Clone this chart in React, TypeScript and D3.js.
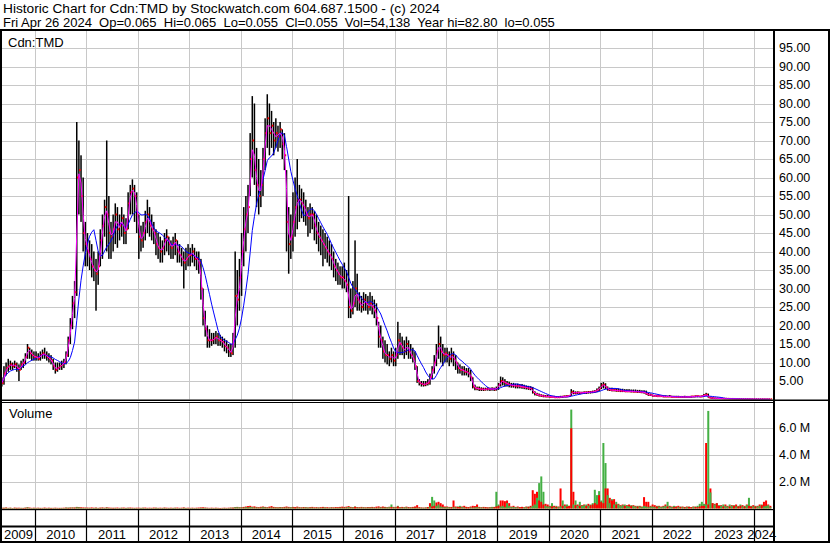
import React from "react";
import * as d3 from "d3";

// Semi-monthly periods from May 2009 (first half) to Apr 2024 (second half)
// prices in CAD
const highs = [
  // 2009 (May-Dec)
  6, 9, 10, 11, 10.5, 10, 10.5, 10, 9.5, 10.5, 11, 12.5, 15, 14, 13.5, 13,
  // 2010
  13, 12.5, 13, 13.5, 14, 13, 12.5, 12, 11, 10, 10, 10, 10.5, 11, 13, 17, 22, 28, 32, 75, 70, 66, 60, 48,
  // 2011
  45, 43, 42, 40, 38, 40, 46, 50, 54, 70, 55, 48, 50, 53, 52, 50, 52, 50, 49, 56, 58, 59.5, 58, 56,
  // 2012
  50, 47, 48, 51, 54, 52, 50, 48, 46, 45, 44, 43, 45, 46, 44, 43, 44, 45, 43, 42, 41, 40, 41, 42,
  // 2013
  41, 42, 41, 40, 40, 38, 30, 24, 20, 19, 18, 18, 18.5, 18, 17.5, 17, 16.5, 16, 15, 15, 18, 40, 35, 38,
  // 2014
  45, 52, 55, 58, 72, 82, 80, 68, 65, 62, 68, 76, 82.5, 80, 78, 75, 76, 74, 75, 73, 72, 62, 52, 50,
  // 2015
  56, 60, 65, 58, 57, 56, 54, 52, 53, 52, 51, 50, 48, 47, 46, 45, 44, 43, 42, 40, 38, 37, 36, 36,
  // 2016
  37, 35, 55, 30, 32, 43, 34, 29, 28, 29, 28.5, 28, 29, 28, 27, 26, 21, 20, 17, 16, 15, 13, 14, 13,
  // 2017
  14, 21, 18, 17, 16, 17, 16, 15, 14, 13, 9, 5.5, 5, 5, 5, 5.5, 7, 9, 12, 15, 20, 17, 15, 14,
  // 2018
  14, 13, 14, 13, 12, 10, 9.5, 9, 9, 8.5, 8.5, 8, 6, 4, 3.5, 3.5, 3.3, 3.2, 3.2, 3.3, 3.2, 3.3, 3.2, 3.5,
  // 2019
  4.5, 6.2, 6, 5.5, 5, 4.8, 4.5, 4.5, 4.3, 4.3, 4.2, 4.2, 4, 3.8, 3.7, 3.6, 3.4, 2.2, 1.8, 1.6, 1.4, 1.3, 1.2, 1.2,
  // 2020
  1.1, 1, 1, 0.9, 0.9, 1, 1, 1.1, 1.2, 1.2, 2.8, 2.5, 2.2, 2.2, 2.1, 2.1, 2.2, 2.2, 2.3, 2.3, 2.4, 2.5, 3, 3.5,
  // 2021
  4.5, 4.7, 4.4, 3.5, 3.2, 3.2, 3, 3, 3, 2.9, 2.9, 2.8, 2.8, 2.8, 2.7, 2.7, 2.7, 2.6, 2.6, 2.5, 2.5, 2.4, 1.8, 1.6,
  // 2022
  1.3, 1.2, 1.2, 1.2, 1.1, 1.1, 1.1, 1, 1.2, 1, 1, 1, 1, 0.9, 0.9, 1, 0.9, 0.9, 1, 1, 1.1, 1.1, 1, 1.1,
  // 2023
  1.5, 1.8, 1.6, 0.8, 0.6, 0.5, 0.45, 0.4, 0.4, 0.35, 0.3, 0.3, 0.25, 0.25, 0.22, 0.2, 0.2, 0.18, 0.17, 0.16, 0.15, 0.14, 0.13, 0.12,
  // 2024 (Jan-Apr)
  0.12, 0.11, 0.1, 0.1, 0.09, 0.09, 0.08, 0.065,
];

const lows = [
  3.5, 4, 6.5, 7.5, 8, 8, 8.5, 7.5, 5, 8, 8.5, 9.5, 11, 11, 10.5, 10.5,
  10.5, 10.5, 10.5, 11, 11, 10.5, 10, 9.5, 8, 7, 7.5, 8, 8, 8.5, 9.5, 11.5, 15, 19, 22, 28, 50, 48, 40, 36,
  36, 35, 33, 32, 24, 31, 36, 38, 44, 40, 38, 38, 40, 42, 41, 43, 44, 42, 42, 46, 50, 50, 48, 45,
  38, 40, 41, 43, 45, 44, 43, 42, 39, 38, 37, 37, 39, 40, 39, 38, 38, 39, 37, 37, 36, 30, 35, 36,
  36, 37, 36, 35, 34, 27, 20, 17, 14, 14, 14.5, 15, 15, 14.5, 14.5, 14, 13, 12.5, 11.5, 11.5, 12, 14, 20, 24,
  28, 36, 40, 45, 55, 60, 58, 52, 50, 52, 55, 62, 68, 66, 68, 66, 68, 67, 68, 65, 62, 40, 34, 38,
  40, 44, 46, 48, 49, 48, 47, 44, 45, 46, 43, 42, 40, 39, 36, 38, 37, 36, 35, 33, 32, 31, 31, 30,
  30, 29, 22, 22, 23, 25, 24, 24, 23.5, 24, 24, 23, 24, 23, 22, 20, 14, 14, 11, 10, 9.5, 9, 10, 9,
  9, 11, 12, 12, 11, 12, 11, 11, 10, 8, 4.5, 3.8, 3.5, 3.5, 3.6, 3.8, 4, 5.5, 7, 9, 11, 10, 9, 10,
  10, 9, 10, 9, 8, 7, 7, 6.5, 6.5, 6.5, 6, 5, 3, 2.5, 2.5, 2.3, 2.3, 2.3, 2.4, 2.4, 2.3, 2.4, 2.3, 2.4,
  2.6, 3.5, 3.8, 3.5, 3.5, 3.3, 3.2, 3.2, 3, 3, 3, 2.9, 2.8, 2.7, 2.6, 2.5, 1.6, 1.1, 1, 0.8, 0.7, 0.6, 0.6, 0.6,
  0.5, 0.5, 0.5, 0.4, 0.4, 0.5, 0.5, 0.6, 0.6, 0.7, 1, 1.4, 1.4, 1.5, 1.4, 1.5, 1.5, 1.5, 1.6, 1.6, 1.7, 1.8, 2, 2.3,
  2.8, 3, 2.8, 2.4, 2.3, 2.2, 2.2, 2.1, 2.1, 2, 2, 2, 2, 2, 1.9, 1.9, 1.9, 1.8, 1.8, 1.7, 1.6, 1.3, 1, 1,
  0.8, 0.8, 0.7, 0.7, 0.7, 0.6, 0.6, 0.6, 0.6, 0.5, 0.5, 0.5, 0.5, 0.5, 0.5, 0.5, 0.5, 0.5, 0.5, 0.6, 0.6, 0.6, 0.6, 0.6,
  0.8, 0.9, 0.5, 0.3, 0.2, 0.2, 0.2, 0.15, 0.15, 0.15, 0.12, 0.12, 0.1, 0.1, 0.1, 0.09, 0.08, 0.08, 0.07, 0.07, 0.06, 0.06, 0.06, 0.05,
  0.05, 0.05, 0.05, 0.05, 0.05, 0.05, 0.05, 0.055,
];

const closes = [
  4.5, 7, 8.5, 9, 9.5, 9, 9.5, 8.5, 8, 9.5, 10, 11.5, 14, 12.5, 12, 11.5,
  11.5, 11, 12, 12.5, 12, 11.5, 11, 10.5, 9, 8, 8.5, 9, 9.5, 10, 12, 16, 20, 26, 29, 60, 62, 55, 45, 42,
  40, 38, 36, 35, 34, 36, 43, 47, 52, 50, 45, 44, 46, 50, 46, 47, 49, 45, 46, 53, 56, 57, 55, 50,
  44, 43, 45, 48, 50, 47, 46, 45, 42, 41, 40, 41, 43, 44, 42, 41, 42, 43, 40, 39, 38, 37, 38, 39,
  39, 40, 38, 38, 37, 30, 22, 19, 16, 16, 16, 16.5, 17, 16, 16, 15.5, 14.5, 14, 13, 12.5, 16, 28, 27, 33,
  40, 46, 50, 52, 65, 70, 62, 58, 55, 58, 65, 72, 76, 72, 74, 70, 72, 71, 73, 69, 66, 48, 42, 44,
  48, 52, 54, 54, 53, 52, 50, 49, 50, 50, 47, 45, 44, 43, 42, 41, 40, 39, 38, 36, 35, 34, 33, 33,
  32, 31, 25, 24, 26, 30, 27, 26, 25, 27, 26, 25, 26, 25, 24, 22, 17, 16, 13, 12, 12, 11, 12, 10.5,
  12, 16, 15, 14, 13, 15, 13, 12, 11, 9, 5, 4.5, 4.2, 4, 4.3, 4.5, 6, 8, 10, 13, 15, 13, 12, 12.5,
  12, 11, 12, 11, 10, 8.5, 8, 8, 7.5, 7.5, 7, 6, 3.5, 3, 3, 2.8, 2.8, 2.7, 2.8, 2.9, 2.8, 2.9, 2.7, 3,
  4, 5, 4.8, 4.5, 4.2, 4, 3.8, 3.8, 3.6, 3.7, 3.5, 3.4, 3.3, 3.2, 3, 3, 2, 1.5, 1.3, 1.1, 1, 0.9, 0.8, 0.8,
  0.7, 0.7, 0.6, 0.6, 0.6, 0.7, 0.8, 0.8, 0.9, 1, 2, 1.8, 1.8, 1.9, 1.8, 1.8, 1.9, 1.9, 2, 2, 2.1, 2.2, 2.6, 3,
  3.8, 4, 3.3, 2.7, 2.6, 2.5, 2.5, 2.4, 2.4, 2.3, 2.3, 2.2, 2.2, 2.2, 2.2, 2.1, 2.1, 2.1, 2, 2, 1.9, 1.5, 1.3, 1.2,
  1, 1, 0.9, 0.9, 0.9, 0.8, 0.8, 0.8, 0.8, 0.7, 0.7, 0.7, 0.7, 0.7, 0.7, 0.7, 0.7, 0.7, 0.8, 0.8, 0.9, 0.9, 0.8, 0.9,
  1.2, 1.3, 0.6, 0.4, 0.35, 0.3, 0.3, 0.25, 0.25, 0.2, 0.2, 0.18, 0.15, 0.15, 0.14, 0.12, 0.12, 0.11, 0.1, 0.1, 0.09, 0.09, 0.08, 0.08,
  0.08, 0.07, 0.07, 0.07, 0.06, 0.06, 0.06, 0.055,
];

// volume in millions of shares, split into down (red) and up (green) sessions
const volDown = [
  0.06, 0.05, 0.08, 0.05, 0.06, 0.04, 0.07, 0.05, 0.06, 0.05, 0.04, 0.06, 0.09, 0.07, 0.05, 0.06,
  0.05, 0.06, 0.04, 0.05, 0.07, 0.05, 0.06, 0.04, 0.05, 0.06, 0.05, 0.04, 0.05, 0.06, 0.07, 0.05, 0.06, 0.08, 0.07, 0.12, 0.1, 0.09, 0.08, 0.07,
  0.07, 0.06, 0.08, 0.06, 0.07, 0.05, 0.06, 0.08, 0.06, 0.09, 0.07, 0.06, 0.05, 0.06, 0.07, 0.05, 0.06, 0.07, 0.05, 0.06, 0.07, 0.06, 0.05, 0.06,
  0.06, 0.05, 0.06, 0.07, 0.05, 0.06, 0.05, 0.07, 0.06, 0.05, 0.06, 0.05, 0.07, 0.06, 0.05, 0.06, 0.05, 0.06, 0.07, 0.05, 0.06, 0.08, 0.05, 0.06,
  0.05, 0.06, 0.05, 0.06, 0.07, 0.08, 0.09, 0.07, 0.06, 0.05, 0.06, 0.05, 0.06, 0.05, 0.04, 0.05, 0.06, 0.05, 0.06, 0.07, 0.06, 0.1, 0.12, 0.09,
  0.1, 0.12, 0.15, 0.18, 0.2, 0.14, 0.16, 0.12, 0.1, 0.13, 0.15, 0.12, 0.1, 0.14, 0.18, 0.12, 0.1, 0.09, 0.11, 0.1, 0.12, 0.15, 0.12, 0.1,
  0.12, 0.1, 0.14, 0.1, 0.09, 0.11, 0.1, 0.08, 0.1, 0.12, 0.09, 0.1, 0.08, 0.1, 0.12, 0.09, 0.1, 0.08, 0.1, 0.09, 0.11, 0.1, 0.12, 0.14,
  0.12, 0.14, 0.18, 0.12, 0.1, 0.13, 0.11, 0.1, 0.12, 0.1, 0.09, 0.11, 0.1, 0.12, 0.1, 0.14, 0.16, 0.12, 0.15, 0.12, 0.1, 0.13, 0.11, 0.12,
  0.12, 0.15, 0.1, 0.12, 0.1, 0.14, 0.11, 0.1, 0.12, 0.15, 0.25, 0.1, 0.08, 0.07, 0.08, 0.1, 0.4, 0.15, 0.2, 0.45, 0.5, 0.4, 0.3, 0.15,
  0.15, 0.12, 0.1, 0.6, 0.15, 0.12, 0.1, 0.15, 0.2, 0.12, 0.1, 0.15, 0.2, 0.18, 0.3, 0.12, 0.1, 0.12, 0.1, 0.08, 0.1, 0.12, 0.1, 0.15,
  0.2, 0.6, 0.6, 0.55, 0.6, 0.4, 0.15, 0.2, 0.12, 0.15, 0.1, 0.12, 0.1, 0.15, 0.12, 0.2, 1.37, 1.1, 1.25, 0.6, 0.5, 0.3, 0.35, 0.3,
  0.2, 0.15, 0.2, 0.12, 0.15, 1.5, 0.2, 0.3, 0.15, 0.2, 6.0, 1.25, 0.25, 0.3, 0.2, 0.25, 0.3, 0.2, 0.35, 0.25, 0.3, 0.4, 0.3, 1.0,
  0.5, 0.4, 1.5, 1.5, 0.8, 0.6, 0.7, 0.3, 0.35, 0.25, 0.3, 0.2, 0.25, 0.3, 0.2, 0.25, 0.2, 0.15, 0.2, 0.15, 0.85, 0.5, 0.5, 0.2,
  0.3, 0.25, 0.15, 0.2, 0.15, 0.2, 0.3, 0.15, 0.2, 0.15, 0.1, 0.15, 0.2, 0.12, 0.15, 0.1, 0.15, 0.12, 0.1, 0.15, 0.12, 0.1, 0.15, 0.2,
  0.2, 4.9, 0.3, 1.5, 0.4, 0.35, 0.4, 0.2, 0.25, 0.15, 0.3, 0.2, 0.15, 0.25, 0.2, 0.3, 0.15, 0.2, 0.25, 0.15, 0.3, 0.2, 0.15, 0.25,
  0.15, 0.2, 0.3, 0.25, 0.5, 0.6, 0.3, 0.2,
];

const volUp = [
  0.04, 0.06, 0.05, 0.04, 0.05, 0.03, 0.04, 0.05, 0.03, 0.04, 0.05, 0.06, 0.08, 0.04, 0.03, 0.04,
  0.03, 0.04, 0.05, 0.03, 0.04, 0.03, 0.04, 0.05, 0.03, 0.04, 0.03, 0.05, 0.04, 0.03, 0.06, 0.07, 0.08, 0.06, 0.07, 0.1, 0.08, 0.05, 0.04, 0.05,
  0.04, 0.05, 0.03, 0.04, 0.05, 0.04, 0.06, 0.05, 0.04, 0.07, 0.04, 0.03, 0.05, 0.04, 0.03, 0.04, 0.05, 0.03, 0.04, 0.05, 0.04, 0.03, 0.04, 0.03,
  0.03, 0.04, 0.05, 0.03, 0.04, 0.03, 0.04, 0.03, 0.05, 0.04, 0.03, 0.04, 0.05, 0.03, 0.04, 0.03, 0.04, 0.05, 0.03, 0.04, 0.03, 0.05, 0.04, 0.03,
  0.03, 0.04, 0.03, 0.04, 0.03, 0.05, 0.04, 0.05, 0.04, 0.03, 0.04, 0.03, 0.04, 0.03, 0.04, 0.03, 0.04, 0.03, 0.04, 0.05, 0.07, 0.09, 0.1, 0.08,
  0.08, 0.06, 0.1, 0.08, 0.12, 0.1, 0.07, 0.08, 0.06, 0.07, 0.1, 0.08, 0.07, 0.06, 0.08, 0.06, 0.07, 0.06, 0.08, 0.07, 0.06, 0.08, 0.07, 0.09,
  0.07, 0.1, 0.08, 0.06, 0.07, 0.06, 0.08, 0.07, 0.06, 0.07, 0.05, 0.06, 0.07, 0.05, 0.06, 0.07, 0.05, 0.06, 0.07, 0.05, 0.06, 0.05, 0.07, 0.06,
  0.06, 0.08, 0.12, 0.07, 0.08, 0.15, 0.07, 0.06, 0.07, 0.08, 0.06, 0.07, 0.06, 0.07, 0.06, 0.05, 0.07, 0.08, 0.06, 0.07, 0.08, 0.1, 0.3, 0.08,
  0.08, 0.2, 0.07, 0.06, 0.08, 0.1, 0.06, 0.07, 0.06, 0.05, 0.06, 0.05, 0.06, 0.05, 0.07, 0.1, 0.15, 0.87, 0.6, 0.2, 0.3, 0.15, 0.1, 0.08,
  0.1, 0.08, 0.12, 0.1, 0.08, 0.15, 0.2, 0.1, 0.08, 0.12, 0.1, 0.08, 0.06, 0.08, 0.1, 0.07, 0.08, 0.06, 0.1, 0.08, 0.07, 0.1, 0.12, 1.25,
  0.3, 0.15, 0.2, 0.1, 0.4, 0.2, 0.1, 0.12, 0.1, 0.08, 0.1, 0.12, 0.08, 0.1, 0.15, 0.1, 0.2, 0.3, 0.8, 1.9, 2.4, 1.25, 0.2, 0.15,
  0.15, 0.4, 0.1, 0.2, 0.1, 0.15, 0.6, 0.2, 0.3, 0.2, 7.4, 0.3, 0.6, 0.2, 0.5, 0.2, 0.25, 0.3, 0.2, 0.3, 0.4, 1.4, 1.0, 1.3,
  0.6, 4.9, 3.4, 1.0, 0.4, 0.7, 0.3, 0.5, 0.3, 0.2, 0.25, 0.3, 0.2, 0.15, 0.25, 0.2, 0.15, 0.2, 0.15, 0.1, 0.2, 0.15, 0.1, 0.15,
  0.15, 0.1, 0.2, 0.15, 0.1, 0.15, 0.2, 0.5, 0.15, 0.1, 0.2, 0.15, 0.1, 0.15, 0.1, 0.12, 0.1, 0.15, 0.1, 0.12, 0.15, 0.2, 0.35, 0.5,
  0.35, 0.3, 7.3, 1.2, 0.4, 0.3, 0.4, 0.25, 0.2, 0.3, 0.2, 0.15, 0.3, 0.2, 0.25, 0.15, 0.2, 0.3, 0.15, 0.2, 0.25, 0.8, 0.2, 0.15,
  0.2, 0.15, 0.2, 0.3, 0.15, 0.2, 0.25, 0.1,
];

const yearLabels = ["2009", "2010", "2011", "2012", "2013", "2014", "2015", "2016", "2017", "2018", "2019", "2020", "2021", "2022", "2023", "2024"];
const priceTicks = [5, 10, 15, 20, 25, 30, 35, 40, 45, 50, 55, 60, 65, 70, 75, 80, 85, 90, 95];
const volTicks = [2, 4, 6];
const titleLine = "Historic Chart for Cdn:TMD by Stockwatch.com 604.687.1500 - (c) 2024";
const infoLine = "Fri Apr 26 2024  Op=0.065  Hi=0.065  Lo=0.055  Cl=0.055  Vol=54,138  Year hi=82.80  lo=0.055";
const symbol = "Cdn:TMD";
const volumeTitle = "Volume";

function sma(values: number[], n: number): number[] {
  return values.map((_, i) => d3.mean(values.slice(Math.max(0, i - n + 1), i + 1)) as number);
}

export default function App() {
  const FONT = "Arial, 'Liberation Sans', sans-serif";
  const PL = 2, PR = 773;
  const PT = 31, PB = 399.5;
  const VT = 403, VB = 508.5;
  const GRID = "#c8c8c8";

  const x = d3.scaleLinear().domain([2010, 2024]).range([35, 754.3]);
  const tOf = (i: number) => 2009 + (8 + i) / 24 + 1 / 48;
  const y = d3.scaleLinear().domain([0, 95]).range([399.5, 48]);
  const yv = d3.scaleLinear().domain([0, 6]).range([VB, 428.3]);

  const fast = sma(closes, 2);
  const slow = sma(closes, 9);
  const line = d3
    .line<number>()
    .x((_, i) => x(tOf(i)))
    .y((d) => y(d));

  const yearNums = yearLabels.map((s) => +s);
  const yearBounds = yearNums.slice(1).map((yr) => x(yr));
  const snap = (v: number) => Math.round(v) + 0.5;

  return (
    <svg
      width={830}
      height={543}
      style={{ position: "absolute", left: 0, top: 0, background: "#fff" }}
      fontFamily={FONT}
    >
      <rect x={0} y={0} width={830} height={543} fill="#fff" />
      <defs>
        <clipPath id="pclip">
          <rect x={PL} y={PT} width={PR - PL} height={PB - PT} />
        </clipPath>
        <clipPath id="vclip">
          <rect x={PL} y={VT} width={PR - PL} height={VB - VT + 1} />
        </clipPath>
      </defs>

      {/* header */}
      <text x={3} y={12.5} fontSize={13} fill="#000" textLength={437} lengthAdjust="spacingAndGlyphs">
        {titleLine}
      </text>
      <text x={3} y={26.5} fontSize={13} fill="#000" style={{ whiteSpace: "pre" }}>
        {infoLine}
      </text>

      {/* grid: price panel */}
      {priceTicks.map((p) => (
        <line key={"pg" + p} x1={PL} x2={PR} y1={snap(y(p))} y2={snap(y(p))} stroke={GRID} strokeWidth={1} />
      ))}
      {yearBounds.map((bx, k) => (
        <line key={"vg" + k} x1={snap(bx)} x2={snap(bx)} y1={PT} y2={PB} stroke={GRID} strokeWidth={1} />
      ))}
      {/* grid: volume panel */}
      {volTicks.map((v) => (
        <line key={"vgh" + v} x1={PL} x2={PR} y1={snap(yv(v))} y2={snap(yv(v))} stroke={GRID} strokeWidth={1} />
      ))}
      {yearBounds.map((bx, k) => (
        <line key={"vgv" + k} x1={snap(bx)} x2={snap(bx)} y1={VT} y2={VB} stroke={GRID} strokeWidth={1} />
      ))}

      {/* price bars */}
      <g clipPath="url(#pclip)">
        {highs.map((h, i) => {
          const cx = x(tOf(i));
          const top = y(h);
          const bot = y(lows[i]);
          return <rect key={"b" + i} x={cx - 0.75} y={top} width={1.5} height={Math.max(1, bot - top)} fill="#000" />;
        })}
        {closes.map((c, i) => (
          <rect key={"c" + i} x={x(tOf(i)) + 0.2} y={y(c) - 1} width={1.6} height={2} fill="#ff0000" />
        ))}
        <path d={line(slow) || ""} fill="none" stroke="#0000ff" strokeWidth={1} />
        <path d={line(fast) || ""} fill="none" stroke="#ff00ff" strokeWidth={1} />
      </g>

      {/* volume bars */}
      <g clipPath="url(#vclip)">
        {volDown.map((vd, i) => {
          const vu = volUp[i];
          const cx = x(tOf(i));
          const bigUp = vu >= vd;
          const big = bigUp ? vu : vd;
          const small = bigUp ? vd : vu;
          return (
            <g key={"v" + i}>
              <rect x={cx - 1} y={yv(big)} width={2} height={VB - yv(big)} fill={bigUp ? "#44b044" : "#ff0000"} />
              <rect x={cx - 1} y={yv(small)} width={2} height={VB - yv(small)} fill={bigUp ? "#ff0000" : "#44b044"} />
            </g>
          );
        })}
      </g>

      {/* panel titles */}
      <text x={8} y={47} fontSize={13} fill="#000">{symbol}</text>
      <text x={9} y={418} fontSize={13} fill="#000">{volumeTitle}</text>

      {/* right axis labels */}
      {priceTicks.map((p) => (
        <text key={"pl" + p} x={779} y={y(p)} fontSize={12.5} fill="#000" dominantBaseline="central">
          {p.toFixed(2)}
        </text>
      ))}
      {volTicks.map((v) => (
        <text key={"vl" + v} x={779} y={yv(v)} fontSize={12.5} fill="#000" dominantBaseline="central">
          {v.toFixed(1) + " M"}
        </text>
      ))}

      {/* frame */}
      <rect x={0} y={29} width={830} height={2} fill="#000" />
      <rect x={0} y={29} width={2} height={514} fill="#000" />
      <rect x={828} y={29} width={2} height={514} fill="#000" />
      <rect x={773} y={29} width={2} height={514} fill="#000" />
      <rect x={0} y={399.5} width={830} height={1.5} fill="#000" />
      <rect x={0} y={402} width={773} height={1} fill="#000" />
      <rect x={0} y={509} width={773} height={1.2} fill="#000" />
      <rect x={0} y={525.5} width={773} height={2} fill="#000" />
      <rect x={0} y={541} width={830} height={2} fill="#000" />
      {yearBounds.map((bx, k) => (
        <line key={"ys" + k} x1={snap(bx)} x2={snap(bx)} y1={509} y2={541} stroke="#000" strokeWidth={1.2} />
      ))}

      {/* year labels */}
      {yearLabels.map((lab, k) => {
        const a = Math.max(PL, x(yearNums[k]));
        const b = Math.min(PR - 4, x(yearNums[k] + 1));
        return (
          <text key={"yl" + lab} x={(a + b) / 2} y={539} fontSize={13} fill="#000" textAnchor="middle">
            {lab}
          </text>
        );
      })}
    </svg>
  );
}
